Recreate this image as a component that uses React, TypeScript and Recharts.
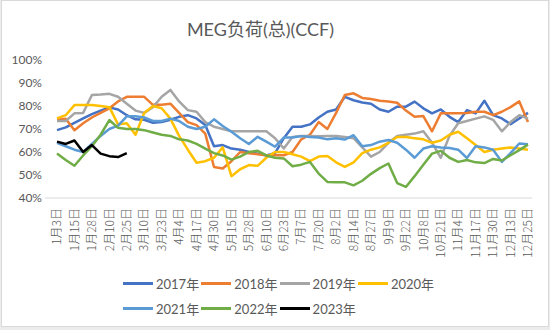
import { LineChart, Line, XAxis, YAxis, Legend } from "recharts";

// weekly CCF data, one label every other week on the axis
const DATES = [
  "1月3日", "1月9日", "1月15日", "1月21日", "1月28日",
  "2月3日", "2月10日", "2月17日", "2月25日",
  "3月3日", "3月10日", "3月16日", "3月23日", "3月29日",
  "4月4日", "4月10日", "4月17日", "4月23日", "4月30日",
  "5月8日", "5月15日", "5月21日", "5月28日",
  "6月3日", "6月10日", "6月16日", "6月23日", "6月30日",
  "7月7日", "7月13日", "7月20日", "7月26日",
  "8月2日", "8月8日", "8月14日", "8月20日", "8月27日",
  "9月2日", "9月9日", "9月15日", "9月22日", "9月30日",
  "10月8日", "10月14日", "10月21日", "10月28日",
  "11月4日", "11月10日", "11月17日", "11月23日", "11月30日",
  "12月6日", "12月13日", "12月19日", "12月25日",
];

const Y2017 = [
  69.5, 70.7, 72.7, 74.6, 76.5, 78, 79.4, 78.5, 76, 74.2,
  74, 72.7, 73, 74, 75.3, 76, 74.6, 71.7, 62.5, 63,
  61.5, 61, 60, 59.3, 58.5, 59.5, 66, 71, 71, 72,
  75, 77.5, 78.5, 84, 82.5, 81.5, 81, 78.5, 77.5, 79.7,
  79.7, 81.9, 79, 76.8, 78.5, 75.3, 73, 78.2, 76.8, 82.3,
  76, 74.6, 72.1, 74.6, 77,
];
const Y2018 = [
  74, 74.5, 69.5, 72.5, 75, 77, 79, 82, 84, 84,
  84, 80.5, 80.5, 81, 77, 73, 71.7, 68, 53.5, 52.8,
  56, 60, 59.5, 59, 58.6, 58.6, 58.6, 60, 65.5, 67.5,
  73, 70, 77, 84.8, 85.5, 83.5, 83, 82.3, 82, 81.4,
  78, 75.3, 75.6, 69, 76.8, 76.8, 76.8, 77, 77.5, 77.5,
  76, 77.5, 79.5, 82, 73,
];
const Y2019 = [
  73.5, 73.5, 76.8, 77, 84.8, 85, 85.3, 84, 81, 78,
  77, 79.5, 84, 87, 82, 78.2, 77.5, 73, 71, 70,
  69, 69, 69, 69, 69, 66, 61.5, 66.5, 67, 67,
  66.8, 67, 67, 66.5, 66, 62, 58, 60, 64, 67,
  67.5, 68, 69, 64, 57.5, 67, 72.5, 73.5, 74.5, 75.5,
  74, 69, 73, 76, 74.5,
];
const Y2020 = [
  74.6, 76, 80.4, 80.4, 80.4, 80, 79.5, 72, 72.5, 67.5,
  77, 80, 79, 74.5, 67, 61, 55.3, 56, 57.5, 62,
  49.5, 52.5, 54.3, 54, 57.5, 60, 60, 59, 58, 56,
  58, 58.3, 55.5, 53.5, 55.5, 59.5, 61, 62, 64, 66.5,
  66.5, 66, 65.5, 64, 65, 67.5, 68.8, 66, 63, 60,
  61, 61.5, 62, 61.5, 61,
];
const Y2021 = [
  64, 62.5, 61, 60, 63.5, 67, 70, 71.5, 75.5, 75.5,
  75, 73.5, 73.5, 74.5, 73.5, 71, 70, 71, 74.2, 71.3,
  68.8, 66, 63.5, 66.6, 64.5, 62.3, 66.3, 66.3, 66.9, 66.5,
  66.3, 65.5, 66, 65.4, 67.3, 62.5, 63, 64.5, 65.2, 64,
  61, 57.5, 61.5, 62.5, 62, 61.7, 61, 57.4, 62.5, 62,
  61, 55.7, 59.5, 63.7, 63.4,
];
const Y2022 = [
  59.3, 56.5, 54, 58.5, 62.5, 67.5, 73.9, 70.5, 70, 70,
  69.5, 68.5, 67.5, 67, 65.5, 65, 63.5, 61.5, 59.5, 58.5,
  56.7, 58, 60, 60.5, 58.5, 57.5, 57.2, 53.8, 54.5, 55.7,
  50.6, 47, 46.8, 46.8, 45.5, 47.5, 50.5, 53, 55, 46.5,
  44.8, 49.5, 54.5, 59.3, 60.5, 57.5, 55.7, 56.5, 55.5, 55.2,
  57, 56.3, 58.6, 60.8, 63.2,
];
const Y2023 = [64.5, 63.5, 65, 60, 63, 59.3, 58.2, 57.8, 59.5];

const Y_TICKS = [40, 50, 60, 70, 80, 90, 100];

const SERIES = [
  { key: "y2017", name: "2017年", color: "#4472C4", values: Y2017 },
  { key: "y2018", name: "2018年", color: "#ED7D31", values: Y2018 },
  { key: "y2019", name: "2019年", color: "#A5A5A5", values: Y2019 },
  { key: "y2020", name: "2020年", color: "#FFC000", values: Y2020 },
  { key: "y2021", name: "2021年", color: "#5B9BD5", values: Y2021 },
  { key: "y2022", name: "2022年", color: "#70AD47", values: Y2022 },
  { key: "y2023", name: "2023年", color: "#000000", values: Y2023 },
];

const data = DATES.map((d, i) => {
  const row: Record<string, string | number | null> = { d };
  SERIES.forEach((s) => {
    row[s.key] = i < s.values.length ? s.values[i] : null;
  });
  return row;
});

const TEXT = "#595959";
const FONT = "Lato, 'Noto Sans CJK SC', sans-serif";

function DateTick({ x, y, payload }: any) {
  return (
    <text
      x={x}
      y={y}
      dx={-10}
      dy="0.35em"
      transform={`rotate(-90 ${x} ${y})`}
      textAnchor="end"
      fontSize={12}
      fontWeight={300}
      fill={TEXT}
      fontFamily="'Noto Sans CJK SC', sans-serif"
    >
      {payload.value}
    </text>
  );
}

function YearLegend() {
  const rows = [SERIES.slice(0, 4), SERIES.slice(4)];
  return (
    <div style={{ width: 320, fontFamily: FONT, fontSize: 13, color: TEXT }}>
      {rows.map((row, r) => (
        <div key={r} style={{ display: "flex", alignItems: "center", height: 25 }}>
          {row.map((s) => (
            <div key={s.key} style={{ display: "flex", alignItems: "center", width: 78.3 }}>
              <span style={{ display: "inline-block", width: 30, height: 2.5, background: s.color, marginRight: 3 }} />
              <span>{s.name}</span>
            </div>
          ))}
        </div>
      ))}
    </div>
  );
}

export default function App() {
  return (
    <div style={{ position: "absolute", left: 0, top: 0, width: 550, height: 330, background: "#ececec" }}>
      <div
        style={{
          position: "absolute",
          left: 1,
          top: 0,
          width: 546,
          height: 325,
          background: "#fff",
          border: "1px solid #d9d9d9",
        }}
      />
      <div
        style={{
          position: "absolute",
          left: 0,
          top: 17,
          width: 521,
          textAlign: "center",
          fontFamily: FONT,
          fontSize: 18,
          color: TEXT,
          lineHeight: "24px",
        }}
      >
        MEG负荷(总)(CCF)
      </div>
      <div style={{ position: "absolute", left: 0, top: 0 }}>
        <LineChart width={550} height={330} data={data} margin={{ top: 60, right: 18, bottom: 62, left: 0 }}>
          <XAxis
            dataKey="d"
            interval={1}
            tick={<DateTick />}
            tickLine={false}
            tickSize={0}
            tickMargin={0}
            axisLine={{ stroke: "#d9d9d9" }}
            height={70}
            padding={{ left: 12, right: 4 }}
          />
          <YAxis
            domain={[40, 100]}
            ticks={Y_TICKS}
            tickFormatter={(v) => `${v}%`}
            axisLine={false}
            tickLine={false}
            tickSize={0}
            tickMargin={3}
            width={45}
            tick={{ fill: TEXT, fontSize: 12, fontFamily: FONT }}
          />
          <Legend
            content={<YearLegend />}
            verticalAlign="middle"
            wrapperStyle={{ top: 271, left: 123, width: 320 }}
          />
          {SERIES.map((s) => (
            <Line
              key={s.key}
              dataKey={s.key}
              name={s.name}
              stroke={s.color}
              strokeWidth={2.5}
              strokeLinejoin="round"
              dot={false}
              activeDot={false}
              isAnimationActive={false}
            />
          ))}
        </LineChart>
      </div>
    </div>
  );
}
